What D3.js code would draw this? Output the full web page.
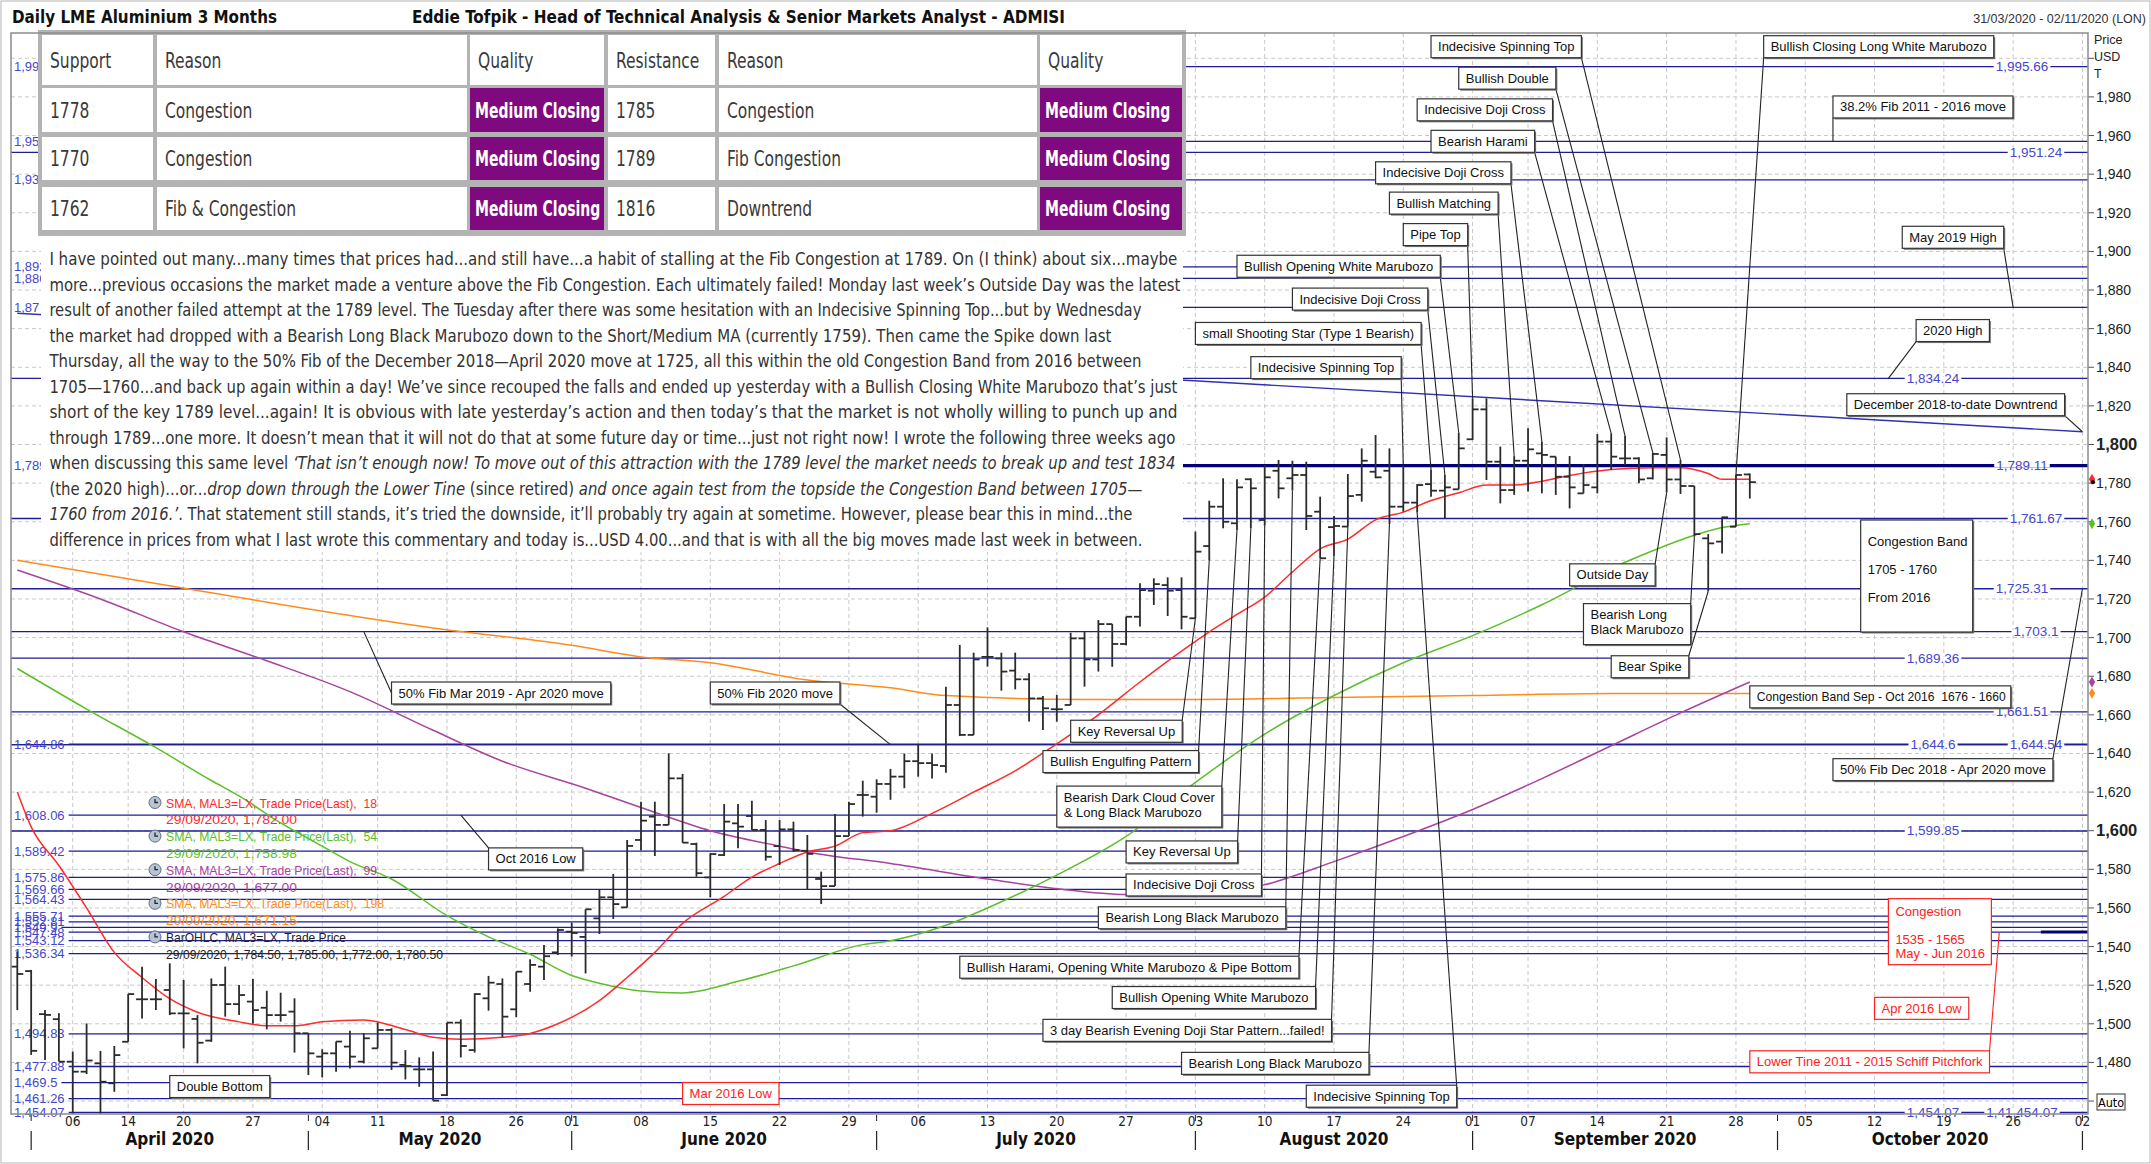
<!DOCTYPE html>
<html>
<head>
<meta charset="utf-8">
<script src="https://cdn.jsdelivr.net/npm/d3@7"></script>
<style>
  body { margin: 0; background: #fff; }
  svg { display: block; font-family: "Liberation Sans", Arial, sans-serif; }
  svg text { white-space: pre; }
  .narrow { font-family: "Liberation Sans Narrow", "DejaVu Sans Condensed", sans-serif; }
</style>
</head>
<body>
<svg id="chart" width="2151" height="1164"></svg>
<script>
"use strict";

// ---- calendar: LME sessions shown on the axis ----
const FIRST_DAY = "2020-03-31";
const LAST_DAY = "2020-11-02";
const HOLIDAYS = ["2020-04-10", "2020-04-13", "2020-05-08", "2020-05-25", "2020-08-31"];

const WEEK_TICKS = ["2020-04-06","2020-04-14","2020-04-20","2020-04-27","2020-05-04","2020-05-11","2020-05-18",
  "2020-05-26","2020-06-01","2020-06-08","2020-06-15","2020-06-22","2020-06-29","2020-07-06","2020-07-13",
  "2020-07-20","2020-07-27","2020-08-03","2020-08-10","2020-08-17","2020-08-24","2020-09-01","2020-09-07",
  "2020-09-14","2020-09-21","2020-09-28","2020-10-05","2020-10-12","2020-10-19","2020-10-26","2020-11-02"];
const MONTH_STARTS = ["2020-04-01","2020-05-01","2020-06-01","2020-07-01","2020-08-03","2020-09-01","2020-10-01","2020-11-02"];
const MONTH_NAMES = ["April 2020","May 2020","June 2020","July 2020","August 2020","September 2020","October 2020"];

// ---- daily OHLC, one value per session from 31/03/2020 ----
const barOpen = [1529.6,1527.3,1505,1502.4,1480.4,1475.2,1479.5,1469.2,1490.7,1512.7,1512.7,1517.5,1505.4,1502.5,1491.3,1520.1,1510.2,1511.5,1508.3,1504.5,
  1506.3,1495.1,1483,1484.7,1488.2,1480.4,1487.3,1496.8,1478.7,1476.4,1476.4,1463.1,1500.6,1486.4,1513.2,1520.6,1507.5,1520.6,1529.6,1537,
  1547.7,1545,1554.6,1565.5,1560.3,1595.2,1607.3,1603,1627.1,1593.1,1575.8,1587.4,1603.8,1607.6,1600.4,1592,1600.7,1589.6,1575,1571.3,
  1597.2,1618.5,1617.6,1624.2,1628,1636,1635,1633.5,1665.1,1649.6,1690,1689.2,1682.9,1678.4,1668.5,1662.9,1665.1,1699.6,1688.7,1707,
  1696.7,1710.8,1724.3,1727.2,1724.6,1710,1747.4,1767.8,1759.2,1782,1760.9,1786.4,1782.5,1784.2,1765.2,1757.2,1757.5,1773.9,1785.9,1786.4,
  1767.8,1769.9,1779.5,1776.1,1776.8,1802.7,1818.2,1791.1,1776.4,1791.6,1795.4,1793.7,1783.3,1774.7,1777.8,1801.5,1792.8,1792.8,1782.5,1794.6,
  1781.9,1778.5,1751.4,1749.7,1757.4,1784.5];
const barHigh = [1537.5,1527.9,1507.2,1505.5,1485.6,1500.2,1485.9,1488.5,1515.4,1529.6,1523.2,1531.3,1522.7,1504.5,1523.5,1529.6,1520.1,1523.2,1517.1,1516.1,
  1513.2,1495.1,1486.8,1490.8,1496.4,1495.1,1500.6,1497.7,1486.4,1482.6,1485.6,1500.6,1502.3,1515.8,1524.8,1523.5,1527,1533.4,1540.8,1549.4,
  1552.4,1559.3,1569.6,1577.6,1595.2,1615,1615,1640.1,1629.4,1593.8,1588.3,1613.8,1613.8,1615.5,1605.5,1605.5,1604.7,1597.8,1578.8,1608.6,
  1615,1625.9,1626.6,1632,1640,1645,1640,1674.6,1696.2,1692.2,1705.3,1692.2,1692.2,1681.5,1669.8,1670.3,1702.5,1703,1709.1,1707,
  1710.8,1728.1,1730.7,1731.2,1731.2,1754.9,1770.9,1782.5,1782,1782.5,1789.4,1792,1791.6,1791.1,1773,1763,1784.7,1798,1804.9,1798,
  1788.9,1779.5,1787.1,1784.2,1806.1,1823.9,1823.9,1798.9,1794,1808.4,1801.5,1793.7,1794,1789.9,1805.4,1805.8,1804.4,1793.4,1795.8,1803.7,
  1792,1778.5,1753.6,1762.6,1784.2,1785];
const barLow = [1507.1,1483.9,1481.3,1480.4,1452,1474,1452,1464.8,1490.7,1502.8,1507.1,1504.5,1487.3,1479.5,1490.7,1503.7,1504.5,1500.2,1497.1,1501.1,
  1485.1,1473.5,1472.3,1475.2,1476.9,1479.5,1487.3,1476.1,1471.2,1467.4,1460.2,1462.6,1482.6,1485.1,1506.8,1493,1503.4,1516.6,1522.7,1535.6,
  1534.8,1526.1,1546.5,1554.3,1560.3,1589.7,1586.9,1603,1593.8,1576.2,1565.5,1586.9,1590.9,1600.4,1584.5,1582.2,1589,1569.6,1562,1571.3,
  1597.2,1607.3,1609.3,1616,1622,1628,1627,1630,1649,1649.6,1685,1672.5,1673.2,1656.5,1652.2,1656.5,1665.1,1674.6,1682.4,1684.9,
  1696,1705.7,1716.9,1711.2,1704.3,1710,1740.2,1756.6,1755.7,1756.6,1758,1772.1,1776.1,1755.7,1741.1,1742.3,1757.5,1770.4,1782.5,1758.8,
  1765.2,1764.7,1773,1761.8,1776.8,1802.3,1781.6,1769.5,1773.9,1775.6,1774.7,1773.9,1766.9,1774.7,1774.7,1786.8,1789.4,1779.9,1781.9,1775.1,
  1774.4,1752.3,1724,1743.6,1757.4,1772];
const barClose = [1525.8,1486,1504.6,1480.4,1475.2,1481,1470,1483.8,1515.4,1512.7,1512.7,1505.4,1505.4,1490.2,1520.1,1510.2,1514.9,1507.1,1504.5,1504.5,
  1495.1,1484.7,1484.7,1490.8,1483,1492.5,1496.8,1479.9,1478.1,1476.4,1460.2,1500.6,1488.5,1515.4,1521.3,1503.7,1527,1530.5,1535,1548.6,
  1547,1559.3,1565.5,1562,1592.1,1605.2,1603,1627.1,1593.8,1578,1587.9,1604.7,1602.1,1600.4,1586.5,1600.7,1590,1588,1571.3,1597.2,
  1613.8,1618.5,1624.2,1628,1636,1635,1634,1665.1,1649.6,1688.7,1690,1682.4,1678.4,1668.5,1663.4,1662.9,1699.6,1688.7,1707,1696.7,
  1710.8,1724.6,1727.7,1724.3,1710.8,1744.5,1767.8,1760,1777.8,1777.3,1783,1777.3,1784.2,1763,1741.1,1757.8,1773.3,1791.6,1783,1767.8,
  1769.9,1779,1776.1,1777.8,1798,1818.2,1791.1,1776.4,1791.6,1797.5,1794.6,1783.3,1777.8,1779,1801.5,1793.7,1792.8,1781.9,1795.1,1781.9,
  1778.5,1753.6,1748.8,1762.3,1784.2,1780.5];

// ---- moving averages: [session number, value] ----
const sma18 = [[0,1620],[1,1602],[3,1582],[5,1560],[7,1537],[9,1524],[11,1513],[13,1506],[16,1501],[18,1499],[20,1499],[22,1501],
  [25,1502],[28,1497],[30,1493],[32,1492],[35,1493],[37,1495],[39,1500],[42,1512],[44,1524],[46,1537],[48,1552],[51,1566],[53,1576],
  [55,1583],[57,1589],[59,1592],[61,1599],[63,1600],[66,1609],[69,1620],[72,1631],[75,1645],[78,1660],[81,1677],[84,1693],[86,1703],
  [88,1712],[90,1721],[92,1734],[94,1746],[96,1751],[98,1761],[100,1765],[102,1771],[104,1775],[106,1779],[108,1779],[110,1781],
  [112,1784],[115,1787],[118,1788],[120,1788],[122,1785],[123,1782],[125,1782]];
const sma54 = [[0,1684],[5,1663],[10,1643],[14,1626],[16,1618],[19,1604],[22,1592],[24,1584],[27,1575],[31,1556],[34,1545],[37,1536],
  [40,1525],[42,1521],[45,1517],[48,1516],[52,1522],[56,1530],[61,1541],[63,1543],[67,1551],[70,1560],[75,1577],[80,1597],[85,1625],
  [90,1650],[95,1670],[100,1687],[105,1701],[110,1717],[116,1739],[118,1745],[121,1753],[123,1757],[125,1759]];
const sma99 = [[0,1735],[6,1720],[12,1703],[18,1688],[24,1672],[30,1652],[35,1636],[41,1622],[45,1612],[50,1600],[55,1592],[57,1589],
  [63,1583],[70,1575],[75,1570],[80,1567],[85,1567],[90,1572],[95,1584],[100,1597],[105,1611],[110,1627],[115,1644],[120,1661],[125,1677]];
const sma198 = [[0,1740],[10,1728],[20,1716],[30,1705],[40,1696],[45,1690],[50,1687],[57,1678],[63,1674],[67,1670],[77,1668],[85,1668],
  [95,1669],[105,1670],[115,1671],[125,1671]];
const downtrend = [[0,1868],[149,1806.6]];

// ---- horizontal levels ----
const levelLeft = [[1995.66,"1,995"],[1957,"1,957"],[1937,"1,937"],[1892,"1,892"],[1886,"1,886"],[1871,"1,87"],[1789.11,"1,789"],
  [1644.86,"1,644.86"],[1608.06,"1,608.06"],[1589.42,"1,589.42"],[1575.86,"1,575.86"],[1569.66,"1,569.66"],[1564.43,"1,564.43"],
  [1555.71,"1,555.71"],[1552.81,"1,552.81"],[1549.9,"1,549.9"],[1547.48,"1,547.48"],[1543.12,"1,543.12"],[1536.34,"1,536.34"],
  [1494.83,"1,494.83"],[1477.88,"1,477.88"],[1469.5,"1,469.5"],[1461.26,"1,461.26"],[1454.07,"1,454.07"]];
const levelRight = [[1995.66,"1,995.66","b"],[1951.24,"1,951.24","c"],[1834.24,"1,834.24","a"],[1789.11,"1,789.11","b"],
  [1761.67,"1,761.67","c"],[1725.31,"1,725.31","b"],[1703.1,"1,703.1","c"],[1689.36,"1,689.36","a"],[1661.51,"1,661.51","b"],
  [1644.6,"1,644.6","a"],[1644.54,"1,644.54","c"],[1599.85,"1,599.85","a"],[1454.07,"1,454.07","a"],[1454.07,"1,41,454.07","b"]];

// ---- legend ----
const legendNames = ["SMA, MAL3=LX, Trade Price(Last),  18","SMA, MAL3=LX, Trade Price(Last),  54",
  "SMA, MAL3=LX, Trade Price(Last),  99","SMA, MAL3=LX, Trade Price(Last),  198","BarOHLC, MAL3=LX, Trade Price"];
const legendLast = ["29/09/2020, 1,782.00","29/09/2020, 1,758.98","29/09/2020, 1,677.00","29/09/2020, 1,671.15",
  "29/09/2020, 1,784.50, 1,785.00, 1,772.00, 1,780.50"];
const lastValues = [1782, 1758.98, 1677, 1671.15];

// ---- support / resistance table ----
const tableHeader = ["Support","Reason","Quality","Resistance","Reason","Quality"];
const tableRows = [
  ["1778","Congestion","Medium Closing","1785","Congestion","Medium Closing"],
  ["1770","Congestion","Medium Closing","1789","Fib Congestion","Medium Closing"],
  ["1762","Fib & Congestion","Medium Closing","1816","Downtrend","Medium Closing"]];

// ---- commentary (n = normal, i = italic) ----
const paragraph = [
  [["n","I have pointed out many...many times that prices had...and still have...a habit of stalling at the Fib Congestion at 1789. On (I think) about six...maybe"]],
  [["n","more...previous occasions the market made a venture above the Fib Congestion. Each ultimately failed! Monday last week\u2019s Outside Day was the latest"]],
  [["n","result of another failed attempt at the 1789 level. The Tuesday after there was some hesitation with an Indecisive Spinning Top...but by Wednesday"]],
  [["n","the market had dropped with a Bearish Long Black Marubozo down to the Short/Medium MA (currently 1759). Then came the Spike down last"]],
  [["n","Thursday, all the way to the 50% Fib of the December 2018\u2014April 2020 move at 1725, all this within the old Congestion Band from 2016 between"]],
  [["n","1705\u20141760...and back up again within a day! We\u2019ve since recouped the falls and ended up yesterday with a Bullish Closing White Marubozo that\u2019s just"]],
  [["n","short of the key 1789 level...again! It is obvious with late yesterday\u2019s action and then today\u2019s that the market is not wholly willing to punch up and"]],
  [["n","through 1789...one more. It doesn\u2019t mean that it will not do that at some future day or time...just not right now! I wrote the following three weeks ago"]],
  [["n","when discussing this same level "],["i","\u2018That isn\u2019t enough now! To move out of this attraction with the 1789 level the market needs to break up and test 1834"]],
  [["n","(the 2020 high)...or..."],["i","drop down through the Lower Tine "],["n","(since retired) "],["i","and once again test from the topside the Congestion Band between 1705\u2014"]],
  [["i","1760 from 2016.\u2019"],["n",". That statement still stands, it\u2019s tried the downside, it\u2019ll probably try again at sometime. However, please bear this in mind...the"]],
  [["n","difference in prices from what I last wrote this commentary and today is...USD 4.00...and that is with all the big moves made last week in between."]]];
const paraWidths = [1128, 1131, 1092, 1062, 1092, 1128, 1128, 1126, 1126, 1093, 1083, 1093];

// ---- annotations: box anchored at [session, price], leader to [session, price] ----
const notes = [
  {t:["Indecisive Spinning Top"], s:102, p:2011.7, c:"br", ts:120, tp:1792},
  {t:["Bullish Double"], s:104, p:1995.4, c:"br", ts:118, tp:1795.8},
  {t:["Indecisive Doji Cross"], s:101, p:1979, c:"br", ts:116, tp:1804.4},
  {t:["Bearish Harami"], s:102, p:1962.7, c:"br", ts:115, tp:1805.8},
  {t:["Indecisive Doji Cross"], s:98, p:1946.4, c:"br", ts:110, tp:1801.5},
  {t:["Bullish Matching"], s:99, p:1930.7, c:"br", ts:108, tp:1794},
  {t:["Pipe Top"], s:100, p:1914.4, c:"br", ts:105, tp:1823.9},
  {t:["Bullish Opening White Marubozo"], s:88, p:1898, c:"br", ts:104, tp:1806.1},
  {t:["Indecisive Doji Cross"], s:92, p:1881, c:"br", ts:103, tp:1784.2},
  {t:["small Shooting Star (Type 1 Bearish)"], s:85, p:1863.2, c:"br", ts:102, tp:1787.1},
  {t:["Indecisive Spinning Top"], s:89, p:1845.5, c:"br", ts:100, tp:1788.9},
  {t:["Bullish Closing Long White Marubozo"], s:126, p:2011.7, c:"bl", ts:124, tp:1784.2},
  {t:["38.2% Fib 2011 - 2016 move"], s:131, p:1980.5, c:"bl", ts:131, tp:1957},
  {t:["May 2019 High"], s:136, p:1913, c:"br", ts:144, tp:1871},
  {t:["2020 High"], s:137, p:1864.7, c:"bl", ts:135, tp:1834.24},
  {t:["December 2018-to-date Downtrend"], s:132, p:1826.3, c:"br", ts:149, tp:1806.6},
  {t:["Congestion Band","1705 - 1760","From 2016"], s:133, p:1760.9, w:112, h:112, lh:28, first:26},
  {t:["Outside Day"], s:112, p:1738.2, c:"tr", ts:119, tp:1775.1},
  {t:["Bearish Long","Black Marubozo"], s:113, p:1717.6, c:"tr", ts:121, tp:1752.3},
  {t:["Bear Spike"], s:115, p:1690.6, c:"tr", ts:122, tp:1724},
  {t:["Congestion Band Sep - Oct 2016  1676 - 1660"], s:125, p:1675, w:261},
  {t:["50% Fib Dec 2018 - Apr 2020 move"], s:131, p:1637.3, c:"tr", ts:149, tp:1725.31},
  {t:["Key Reversal Up"], s:76, p:1657.2, c:"tr", ts:85, tp:1710},
  {t:["Bullish Engulfing Pattern"], s:74, p:1641.5, c:"tr", ts:86, tp:1740.2},
  {t:["Bearish Dark Cloud Cover","& Long Black Marubozo"], s:75, p:1623.1, c:"tr", ts:88, tp:1755.7},
  {t:["Key Reversal Up"], s:80, p:1594.7, c:"tr", ts:89, tp:1756.6},
  {t:["Indecisive Doji Cross"], s:80, p:1577.6, c:"tr", ts:90, tp:1758},
  {t:["Bearish Long Black Marubozo"], s:78, p:1560.6, c:"tr", ts:92, tp:1776.1},
  {t:["Bullish Harami, Opening White Marubozo & Pipe Bottom"], s:68, p:1535, c:"tr", ts:94, tp:1741.1},
  {t:["Bullish Opening White Marubozo"], s:79, p:1519.3, c:"tr", ts:95, tp:1742.3},
  {t:["3 day Bearish Evening Doji Star Pattern...failed!"], s:74, p:1502.3, c:"tr", ts:96, tp:1757.5},
  {t:["Bearish Long Black Marubozo"], s:84, p:1485.2, c:"tr", ts:99, tp:1758.8},
  {t:["Indecisive Spinning Top"], s:93, p:1468.2, c:"tr", ts:101, tp:1764.7},
  {t:["Congestion","","1535 - 1565","May - Jun 2016"], s:135, p:1564.8, red:true, w:103, h:66, lh:14, first:17},
  {t:["Apr 2016 Low"], s:134, p:1513.7, red:true},
  {t:["Lower Tine 2011 - 2015 Schiff Pitchfork"], s:125, p:1486, red:true, c:"tr", ts:143, tp:1547.48},
  {t:["Mar 2016 Low"], s:48, p:1469.6, red:true},
  {t:["Double Bottom"], s:11, p:1473.2},
  {t:["Oct 2016 Low"], s:34, p:1591.1, c:"tl", ts:32, tp:1608.06},
  {t:["50% Fib Mar 2019 - Apr 2020 move"], s:27, p:1677, c:"l", ts:25, tp:1703.1},
  {t:["50% Fib 2020 move"], s:50, p:1677, c:"br", ts:63, tp:1644.6}];

// ---------------------------------------------------------------------------
const svg = d3.select("#chart");
const W = 2151, H = 1164;
const plot = { left: 11, right: 2088, top: 33, bottom: 1114 };
const COLORS = { sma18: "#ff2a2a", sma54: "#5cbf2a", sma99: "#a8439f", sma198: "#ff8c1a",
  level: "#1d1d99", levelText: "#4646cc", bar: "#2b2b2b", red: "#ff2020" };

const fmt = d3.timeFormat("%Y-%m-%d");
const parse = d3.timeParse("%Y-%m-%d");
const days = d3.timeDay.range(parse(FIRST_DAY), d3.timeDay.offset(parse(LAST_DAY), 1))
  .filter(d => d.getDay() !== 0 && d.getDay() !== 6 && !HOLIDAYS.includes(fmt(d)))
  .map(fmt);

const x = d3.scalePoint().domain(days).range([17.3, 17.3 + 13.86 * (days.length - 1)]);
const y = d3.scaleLinear().domain([1600, 1800]).range([830.7, 444.5]);
const xs = i => x(days[i]);

// squeeze a text to a fraction of its natural width
function squeeze(sel, k) {
  const w = sel.node().getComputedTextLength();
  sel.attr("textLength", w * k).attr("lengthAdjust", "spacingAndGlyphs");
}

svg.append("rect").attr("width", W).attr("height", H).attr("fill", "#fff");
svg.append("rect").attr("x", 1).attr("y", 1).attr("width", W - 2).attr("height", H - 2)
  .attr("fill", "none").attr("stroke", "#b4b4b4");

svg.append("clipPath").attr("id", "plotClip").append("rect")
  .attr("x", plot.left).attr("y", plot.top)
  .attr("width", plot.right - plot.left).attr("height", plot.bottom - plot.top);

// grid
const grid = svg.append("g").attr("stroke", "#c8c8c8").attr("stroke-dasharray", "4,3");
grid.selectAll("line.v").data(WEEK_TICKS).join("line")
  .attr("x1", d => x(d)).attr("x2", d => x(d)).attr("y1", plot.top).attr("y2", plot.bottom);
grid.selectAll("line.h").data(d3.range(1460, 2001, 20)).join("line")
  .attr("x1", plot.left).attr("x2", plot.right).attr("y1", d => y(d)).attr("y2", d => y(d));

// horizontal levels
const levels = svg.append("g").attr("clip-path", "url(#plotClip)");
const leftSet = new Map(levelLeft);
const allLevels = Array.from(new Set([...levelLeft.map(d => d[0]), ...levelRight.map(d => d[0])]));
const leftLabelG = svg.append("g").attr("font-size", 13).attr("fill", COLORS.levelText);
allLevels.forEach(v => {
  let x0 = plot.left;
  if (leftSet.has(v)) {
    const t = leftLabelG.append("text").attr("x", 14).attr("y", y(v) + 4.5).text(leftSet.get(v));
    x0 = 14 + t.node().getComputedTextLength() + 4;
  }
  levels.append("line").attr("x1", x0).attr("x2", plot.right).attr("y1", y(v)).attr("y2", y(v))
    .attr("stroke", v === 1789.11 ? "#00007a" : COLORS.level).attr("stroke-width", v === 1789.11 ? 3.2 : 1.3);
});
levels.append("line").attr("x1", xs(146)).attr("x2", plot.right).attr("y1", y(1547.48)).attr("y2", y(1547.48))
  .attr("stroke", "#00007a").attr("stroke-width", 3);

levels.append("path").datum(downtrend)
  .attr("d", d3.line().x(d => xs(d[0])).y(d => y(d[1])))
  .attr("fill", "none").attr("stroke", "#3030b0").attr("stroke-width", 1.4);

// moving averages
const smaLine = d3.line().x(d => xs(d[0])).y(d => y(d[1])).curve(d3.curveMonotoneX);
const smaG = svg.append("g").attr("clip-path", "url(#plotClip)").attr("fill", "none").attr("stroke-width", 1.5);
[[sma198, COLORS.sma198], [sma99, COLORS.sma99], [sma54, COLORS.sma54], [sma18, COLORS.sma18]].forEach(([s, c]) => {
  smaG.append("path").datum(s).attr("d", smaLine).attr("stroke", c);
});

// OHLC bars
const barG = svg.append("g").attr("clip-path", "url(#plotClip)").attr("stroke", COLORS.bar).attr("stroke-width", 1.8);
barOpen.forEach((o, i) => {
  const cx = xs(i);
  barG.append("line").attr("x1", cx).attr("x2", cx).attr("y1", y(barHigh[i])).attr("y2", y(barLow[i]));
  barG.append("line").attr("x1", cx - 6).attr("x2", cx).attr("y1", y(o)).attr("y2", y(o));
  barG.append("line").attr("x1", cx).attr("x2", cx + 6).attr("y1", y(barClose[i])).attr("y2", y(barClose[i]));
});

// right-hand level labels
const slotX = { a: 1933, b: 2022, c: 2036 };
const rl = svg.append("g").attr("font-size", 13.5).attr("fill", COLORS.levelText).attr("text-anchor", "middle");
levelRight.forEach(([v, label, slot]) => {
  const t = rl.append("text").attr("x", slotX[slot]).attr("y", y(v) + 4.5).text(label);
  const w = t.node().getComputedTextLength();
  rl.insert("rect", () => t.node()).attr("x", slotX[slot] - w / 2 - 2).attr("y", y(v) - 1.5)
    .attr("width", w + 4).attr("height", 3).attr("fill", "#fff");
});

// legend
const lg = svg.append("g").attr("font-size", 13.6);
const legendColors = [COLORS.sma18, COLORS.sma54, COLORS.sma99, COLORS.sma198, "#222"];
const legendNameWidth = [211, 211, 211, 218, 180];
const legendLastWidth = [131, 131, 131, 131, 277];
legendNames.forEach((n, i) => {
  const by = 807.5 + i * 33.6;
  const ic = lg.append("g").attr("transform", `translate(155,${by - 5})`);
  ic.append("circle").attr("r", 6).attr("fill", "#b8c4d2").attr("stroke", "#5f6f86");
  ic.append("path").attr("d", "M0,-3.5V0H3").attr("stroke", "#223").attr("fill", "none").attr("stroke-width", 1.3);
  lg.append("text").attr("x", 166).attr("y", by).attr("fill", legendColors[i]).text(n)
    .attr("textLength", legendNameWidth[i]).attr("lengthAdjust", "spacingAndGlyphs");
  lg.append("text").attr("x", 166).attr("y", by + 16.8).attr("fill", legendColors[i]).text(legendLast[i])
    .attr("textLength", legendLastWidth[i]).attr("lengthAdjust", "spacingAndGlyphs");
});

// annotations
const noteG = svg.append("g").attr("font-size", 13);
notes.forEach(n => {
  const color = n.red ? COLORS.red : "#333";
  const bx = xs(n.s), by = y(n.p);
  const lh = n.lh || 15, first = n.first || 15.5;
  const g = noteG.append("g");
  const texts = n.t.map((line, k) => g.append("text").attr("x", bx + 7).attr("y", by + first + k * lh)
    .attr("fill", n.red ? COLORS.red : "#111").text(line));
  const tw = d3.max(texts, t => t.node().getComputedTextLength());
  if (n.w && tw > n.w - 12) texts.forEach(t => squeeze(t, (n.w - 12) / tw));
  const bw = n.w || tw + 14;
  const bh = n.h || (n.t.length === 1 ? 22 : 8 + n.t.length * 15 + 3);
  if (!n.red) g.insert("rect", "text").attr("x", bx + 1.5).attr("y", by + 1.5).attr("width", bw).attr("height", bh).attr("fill", "#777");
  g.insert("rect", "text").attr("x", bx).attr("y", by).attr("width", bw).attr("height", bh)
    .attr("fill", "#fff").attr("stroke", color).attr("stroke-width", 1.2);
  if (n.c) {
    const corner = { br: [bx + bw, by + bh], bl: [bx, by + bh], tr: [bx + bw, by], tl: [bx, by], l: [bx, by + bh / 2] }[n.c];
    noteG.insert("line", ":first-child").attr("x1", corner[0]).attr("y1", corner[1]).attr("x2", xs(n.ts)).attr("y2", y(n.tp))
      .attr("stroke", n.red ? COLORS.red : "#222").attr("stroke-width", 1.1);
  }
});

// table
const colX = [[42,153],[157,467],[470,604],[608,715],[719,1037],[1040,1182]];
const rowY = [[35,85],[88,132],[137,180],[187,230]];
const tbl = svg.append("g").attr("class", "narrow").attr("font-size", 21);
tbl.append("rect").attr("x", 38).attr("y", 30).attr("width", 1148).attr("height", 206).attr("fill", "#b3b3b3");
[tableHeader, ...tableRows].forEach((row, r) => {
  row.forEach((cell, c) => {
    const purple = cell === "Medium Closing";
    const [x0, x1] = colX[c], [y0, y1] = rowY[r];
    tbl.append("rect").attr("x", x0).attr("y", y0).attr("width", x1 - x0).attr("height", y1 - y0)
      .attr("fill", purple ? "#7f0a7f" : "#fff");
    const t = tbl.append("text").attr("x", x0 + (purple ? 5 : 8)).attr("y", (y0 + y1) / 2 + 7.5)
      .attr("fill", purple ? "#fff" : "#3a3a3a").attr("font-weight", purple ? "bold" : "normal").text(cell);
    squeeze(t, purple ? 0.74 : 0.82);
  });
});

// commentary box
const para = svg.append("g").attr("class", "narrow").attr("font-size", 18.5).attr("fill", "#333");
para.append("rect").attr("x", 41).attr("y", 236).attr("width", 1142).attr("height", 316).attr("fill", "#fff");
paragraph.forEach((line, i) => {
  const t = para.append("text").attr("x", 49.4).attr("y", 265 + i * 25.5)
    .attr("textLength", paraWidths[i]).attr("lengthAdjust", "spacingAndGlyphs");
  line.forEach(([style, s]) => t.append("tspan").attr("font-style", style === "i" ? "italic" : "normal").text(s));
});

// right axis
const ra = svg.append("g");
ra.selectAll("line").data(d3.range(1460, 2001, 20)).join("line")
  .attr("x1", plot.right).attr("x2", plot.right + 6).attr("y1", d => y(d)).attr("y2", d => y(d)).attr("stroke", "#555");
ra.selectAll("text").data(d3.range(1480, 1981, 20)).join("text")
  .attr("x", plot.right + 8).attr("y", d => y(d) + 5)
  .attr("font-size", d => d % 200 === 0 ? 16.5 : 14).attr("font-weight", d => d % 200 === 0 ? "bold" : "normal")
  .attr("fill", "#222").text(d => d3.format(",")(d));
["Price", "USD", "T"].forEach((s, i) => ra.append("text").attr("x", 2094).attr("y", 44 + i * 17)
  .attr("font-size", 12.5).attr("fill", "#222").text(s));
const markerColors = [COLORS.sma18, COLORS.sma54, COLORS.sma99, COLORS.sma198];
lastValues.forEach((v, i) => ra.append("path").attr("d", d3.symbol(d3.symbolDiamond, 34)())
  .attr("transform", `translate(${plot.right + 4},${y(v)})`).attr("fill", markerColors[i]));
ra.append("path").attr("d", d3.symbol(d3.symbolCircle, 14)()).attr("transform", `translate(${plot.right + 5},${y(1780.5)})`).attr("fill", "#111");
ra.append("rect").attr("x", 2097).attr("y", 1094).attr("width", 28).attr("height", 16).attr("fill", "#fff").attr("stroke", "#333");
ra.append("text").attr("x", 2111).attr("y", 1107).attr("text-anchor", "middle").attr("font-size", 12.5).attr("class", "narrow").text("Auto");

// plot frame
svg.append("rect").attr("x", plot.left).attr("y", plot.top).attr("width", plot.right - plot.left).attr("height", plot.bottom - plot.top)
  .attr("fill", "none").attr("stroke", "#8c8c8c").attr("stroke-width", 1.5);

// bottom axis
const xa = svg.append("g").attr("class", "narrow");
xa.selectAll("text.d").data(WEEK_TICKS).join("text")
  .attr("x", d => x(d)).attr("y", 1126).attr("text-anchor", "middle").attr("font-size", 13.5).attr("fill", "#222")
  .text(d => d.slice(8));
xa.selectAll("line.m").data(MONTH_STARTS).join("line")
  .attr("x1", d => x(d)).attr("x2", d => x(d)).attr("y1", 1131).attr("y2", 1150).attr("stroke", "#222").attr("stroke-width", 1.2);
xa.selectAll("line.t").data(MONTH_STARTS).join("line")
  .attr("x1", d => x(d)).attr("x2", d => x(d)).attr("y1", 1115).attr("y2", 1121).attr("stroke", "#222");
xa.selectAll("text.m").data(MONTH_NAMES).join("text")
  .attr("x", (d, i) => (x(MONTH_STARTS[i]) + x(MONTH_STARTS[i + 1])) / 2).attr("y", 1145)
  .attr("text-anchor", "middle").attr("font-size", 17).attr("font-weight", "bold").attr("fill", "#111").text(d => d);

// header
const hd = svg.append("g").attr("class", "narrow").attr("font-weight", "bold").attr("font-size", 18.5).attr("fill", "#111");
hd.append("text").attr("x", 12).attr("y", 23).attr("textLength", 265).attr("lengthAdjust", "spacingAndGlyphs")
  .text("Daily LME Aluminium 3 Months");
hd.append("text").attr("x", 412).attr("y", 23).attr("textLength", 653).attr("lengthAdjust", "spacingAndGlyphs")
  .text("Eddie Tofpik - Head of Technical Analysis & Senior Markets Analyst - ADMISI");
svg.append("text").attr("x", 2146).attr("y", 23).attr("text-anchor", "end").attr("font-size", 12.5).attr("fill", "#333")
  .text("31/03/2020 - 02/11/2020 (LON)");
</script>
</body>
</html>
